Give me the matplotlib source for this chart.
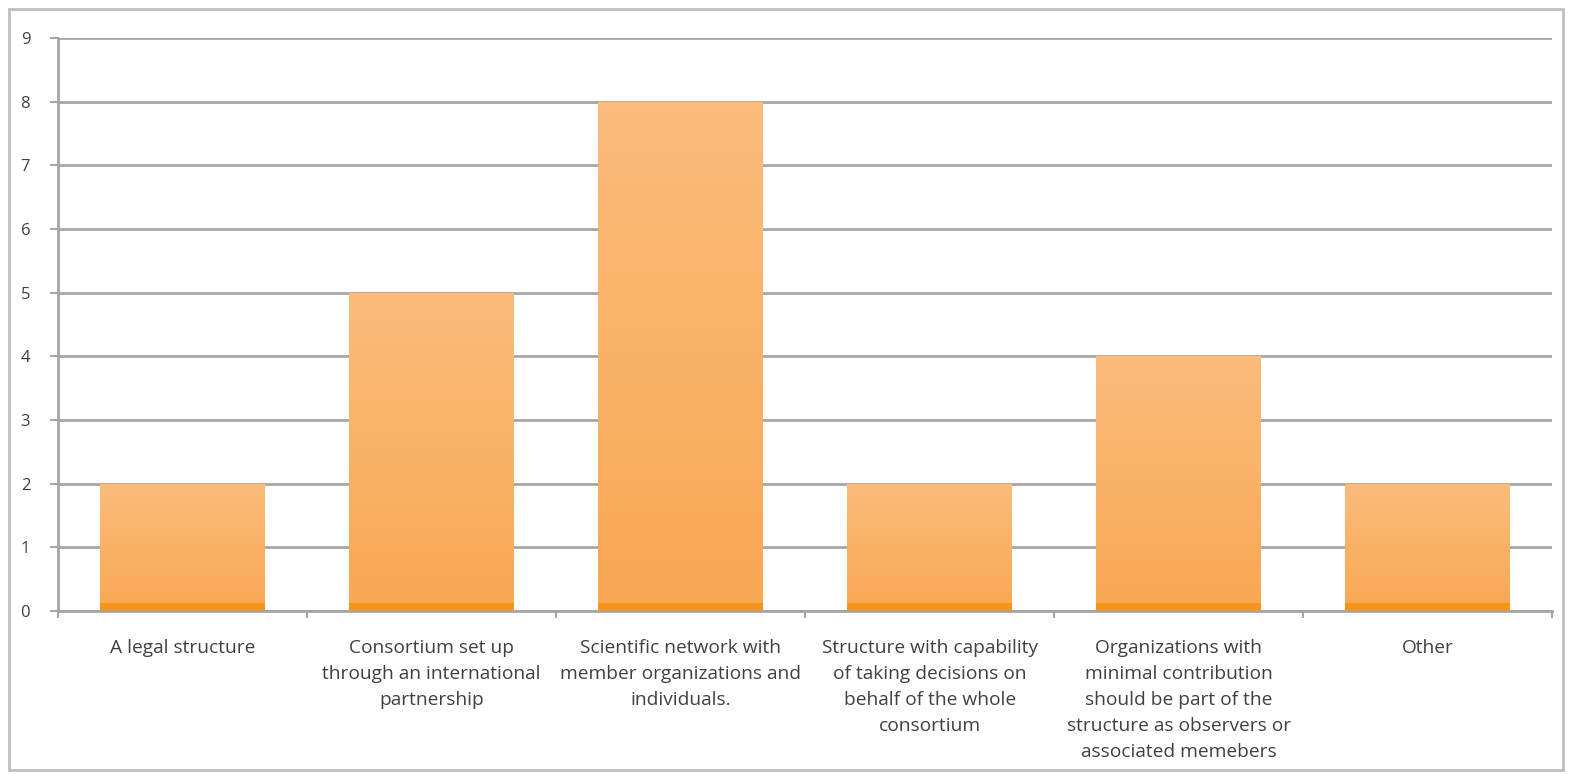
"""Bar chart: preferred structure of the consortium (survey answers)."""

import matplotlib.pyplot as plt
import numpy as np
from matplotlib.patches import Rectangle

CATEGORIES = [
    "A legal structure",
    "Consortium set up\nthrough an international\npartnership",
    "Scientific network with\nmember organizations and\nindividuals.",
    "Structure with capability\nof taking decisions on\nbehalf of the whole\nconsortium",
    "Organizations with\nminimal contribution\nshould be part of the\nstructure as observers or\nassociated memebers",
    "Other",
]
COUNTS = [2, 5, 8, 2, 4, 2]
Y_TICKS = list(range(0, 10))

GRID_COLOR = "#A6A6A6"
TEXT_COLOR = "#404040"
TOP_COLOR = np.array([0xFB, 0xBC, 0x7C]) / 255
BOTTOM_COLOR = np.array([0xF9, 0xA8, 0x52]) / 255
STRIP_COLOR = "#F7941D"


def gradient_bar(ax, bar):
    x, y = bar.get_x(), bar.get_y()
    w, h = bar.get_width(), bar.get_height()
    t = np.linspace(0, 1, 256)[:, None]
    img = BOTTOM_COLOR * (1 - t[..., None]) + TOP_COLOR * t[..., None]
    im = ax.imshow(img, extent=(x, x + w, y, y + h), origin="lower",
                   aspect="auto", zorder=3, interpolation="bicubic")
    im.set_clip_path(bar)
    # darker band at the foot of each bar
    ax.add_patch(Rectangle((x, y), w, 0.12, color=STRIP_COLOR, zorder=4, lw=0))


def main():
    plt.rcParams["font.family"] = ["Open Sans", "DejaVu Sans"]
    fig = plt.figure(figsize=(15.72, 7.75), dpi=100)
    ax = fig.add_axes([0.0369, 0.2116, 0.9505, 0.7394])

    x = np.arange(len(CATEGORIES))
    bars = ax.bar(x, COUNTS, width=0.66, color="none", zorder=3)
    for bar in bars:
        gradient_bar(ax, bar)

    ax.set_xlim(-0.5, len(CATEGORIES) - 0.5)
    ax.set_ylim(0, 9)
    ax.set_yticks(Y_TICKS)
    ax.set_yticklabels([str(v) for v in Y_TICKS], fontsize=12, color=TEXT_COLOR)
    ax.grid(axis="y", color=GRID_COLOR, linewidth=2, zorder=1)
    ax.set_axisbelow(True)

    ax.set_xticks(x)
    ax.set_xticklabels(CATEGORIES, fontsize=13.8, color=TEXT_COLOR, linespacing=1.58)
    ax.tick_params(axis="x", length=0, pad=20)
    ax.set_xticks(np.arange(-0.5, len(CATEGORIES)), minor=True)
    ax.tick_params(axis="x", which="minor", length=5, color=GRID_COLOR, width=1.5)
    ax.tick_params(axis="y", length=6, color=GRID_COLOR, width=1.5, pad=14)

    for side in ("top", "right"):
        ax.spines[side].set_visible(False)
    for side in ("left", "bottom"):
        ax.spines[side].set_color(GRID_COLOR)
        ax.spines[side].set_linewidth(2)

    fig.patches.append(Rectangle((0.006, 0.007), 0.988, 0.982, transform=fig.transFigure,
                                 fill=False, edgecolor="#BFBFBF", linewidth=2))
    fig.savefig("out.png", dpi=100)


if __name__ == "__main__":
    main()
